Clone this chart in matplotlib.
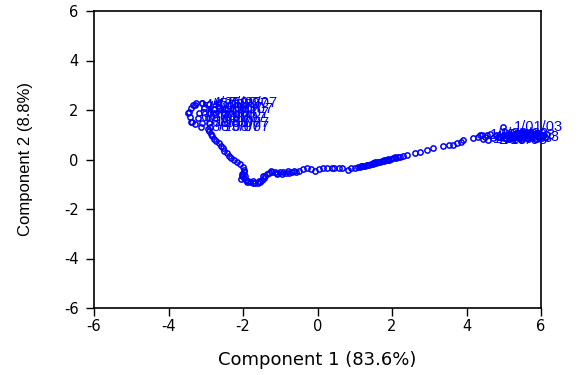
import matplotlib
matplotlib.use("Agg")
import matplotlib.pyplot as plt
from matplotlib import font_manager

# ---- Principal component scores (Component 1, Component 2) -------------
# Unlabelled observations, roughly in time order (early 2003 -> 2007)
pc1 = [
    # early 2003 cloud on the right
    5.15, 5.35, 5.55, 5.75, 5.95, 6.08, 5.90, 5.70, 5.50, 5.30, 5.10, 4.95,
    5.05, 5.25, 5.45, 5.65, 5.85, 6.02, 5.80, 5.60, 5.40, 5.20, 5.00, 4.85,
    5.30, 5.55, 5.75, 5.95, 6.10, 5.45,
    # drift towards the origin
    4.55, 4.42, 4.31, 4.17, 3.91, 3.86, 3.74, 3.64, 3.52, 3.37, 3.10, 2.94,
    2.75, 2.62, 2.40, 2.30, 2.22, 2.16, 2.10, 2.04, 1.98, 1.93, 1.88, 1.83,
    1.78, 1.73, 1.68, 1.63, 1.58, 1.53, 1.48, 1.43, 1.38, 1.33, 1.28, 1.23,
    1.18, 1.13, 1.08, 1.02, 1.62, 1.48, 1.78, 2.08, 1.32, 1.90, 1.55, 1.20,
    0.90, 0.82, 0.65, 0.58, 0.45, 0.38, 0.25, 0.15, 0.05, -0.07,
    # dip below zero
    -0.18, -0.28, -0.40, -0.50, -0.58, -0.68, -0.76, -0.84, -0.92, -1.00,
    -1.08, -1.15, -1.22, -1.30, -1.36, -1.40, -1.44, -1.48, -1.54, -1.60,
    -1.67, -1.74, -1.80, -1.86, -1.92, -1.98, -2.02, -2.00, -1.96, -1.98,
    -1.10, -0.95, -1.25, -1.58, -1.72, -1.90, -2.05, -1.94, -0.80, -0.62,
    -1.45, -2.04,
    # climb to the 2007 cluster
    -2.00, -2.08, -2.16, -2.25, -2.32, -2.38, -2.44, -2.50, -2.55, -2.60,
    -2.65, -2.72, -2.78, -2.82, -2.86, -2.90, -2.94,
    # 2007 cluster outline
    -3.40, -3.30, -3.35, -3.25, -3.48, -3.10,
]
pc2 = [
    1.02, 0.98, 1.00, 0.95, 0.92, 0.97, 1.05, 1.08, 1.06, 1.04, 1.00, 0.94,
    0.86, 0.84, 0.88, 0.85, 0.82, 0.88, 0.93, 0.95, 0.92, 0.90, 0.88, 0.92,
    0.96, 1.10, 1.02, 1.08, 0.90, 0.80,
    0.99, 0.99, 0.91, 0.87, 0.77, 0.71, 0.67, 0.60, 0.58, 0.55, 0.46, 0.38,
    0.30, 0.26, 0.20, 0.15, 0.12, 0.10, 0.07, 0.05, 0.03, 0.00, -0.02, -0.04,
    -0.06, -0.08, -0.10, -0.11, -0.13, -0.15, -0.16, -0.19, -0.21, -0.23,
    -0.25, -0.26, -0.28, -0.30, -0.31, -0.33, -0.10, -0.20, -0.02, 0.10,
    -0.22, 0.02, -0.12, -0.25,
    -0.36, -0.42, -0.36, -0.34, -0.34, -0.33, -0.36, -0.34, -0.40, -0.46,
    -0.40, -0.34, -0.40, -0.48, -0.50, -0.52, -0.54, -0.55, -0.52, -0.51,
    -0.53, -0.50, -0.52, -0.55, -0.60, -0.68, -0.76, -0.84, -0.90, -0.94,
    -0.96, -0.94, -0.91, -0.87, -0.82, -0.76, -0.68, -0.58, -0.50, -0.42,
    -0.58, -0.58, -0.48, -0.86, -0.88, -0.90, -0.80, -0.66, -0.48, -0.46,
    -0.65, -0.60,
    -0.30, -0.18, -0.10, -0.04, 0.06, 0.16, 0.26, 0.36, 0.46, 0.56,
    0.66, 0.74, 0.84, 0.94, 1.04, 1.14, 1.22,
    1.50, 1.42, 2.22, 2.30, 1.88, 2.30,
]

# Labelled observations (weekly dates)
early_dates = ["1/01/03", "1/08/03", "1/15/03", "1/22/03", "1/29/03",
               "2/05/03", "2/12/03", "2/19/03", "2/26/03"]
early_pc1 = [4.98, 4.36, 4.50, 4.62, 4.44, 4.70, 4.80, 4.58, 4.90]
early_pc2 = [1.33, 1.00, 0.92, 1.02, 0.84, 0.88, 0.98, 0.80, 0.90]

late_dates = ["4/18/07", "4/25/07", "5/02/07", "5/09/07", "5/16/07",
              "5/23/07", "5/30/07", "6/06/07", "6/13/07", "6/20/07",
              "6/27/07", "7/04/07", "7/11/07", "7/18/07", "7/25/07",
              "8/01/07", "8/08/07", "8/15/07"]
late_pc1 = [-3.30, -3.10, -2.90, -2.68, -3.40, -3.05, -2.78, -3.46, -3.18,
            -2.88, -3.42, -3.22, -2.95, -3.36, -3.10, -2.90, -2.88, -3.13]
late_pc2 = [2.22, 2.28, 2.26, 2.30, 2.08, 2.10, 2.06, 1.90, 1.86,
            1.88, 1.70, 1.66, 1.68, 1.50, 1.46, 1.48, 1.30, 1.31]

ticks = [-6, -4, -2, 0, 2, 4, 6]
x_title = "Component 1 (83.6%)"
y_title = "Component 2 (8.8%)"

BLUE = "#0000FF"

installed = {f.name for f in font_manager.fontManager.ttflist}
narrow = "Liberation Sans Narrow" if "Liberation Sans Narrow" in installed else "Liberation Sans"

fig = plt.figure(figsize=(5.78, 3.75), dpi=100)
ax = fig.add_axes([94 / 578, 67 / 375, 447 / 578, 297 / 375])

marker_kw = dict(linestyle="none", marker="o", markersize=3.8,
                 markerfacecolor="none", markeredgecolor=BLUE,
                 markeredgewidth=1.1, clip_on=False)
ax.plot(pc1, pc2, **marker_kw)
ax.plot(early_pc1, early_pc2, **marker_kw)
ax.plot(late_pc1, late_pc2, **marker_kw)

for xs, ys, labels in ((early_pc1, early_pc2, early_dates),
                       (late_pc1, late_pc2, late_dates)):
    for x, y, s in zip(xs, ys, labels):
        ax.annotate(s, (x, y), xytext=(7.5, 0), textcoords="offset points",
                    ha="left", va="center", fontsize=10.5, color=BLUE,
                    family="Liberation Sans", annotation_clip=False)

ax.set_xlim(-6, 6)
ax.set_ylim(-6, 6)
ax.set_xticks(ticks)
ax.set_yticks(ticks)
ax.set_xticklabels([str(t) for t in ticks])
ax.set_yticklabels([str(t) for t in ticks])
ax.tick_params(direction="out", length=6, width=1, colors="black",
               labelsize=10.5)
ax.tick_params(axis="x", pad=2)
ax.tick_params(axis="y", pad=5)
for sp in ax.spines.values():
    sp.set_linewidth(1.2)
    sp.set_color("black")

ax.set_xlabel(x_title, fontsize=13, family="DejaVu Sans")
ax.xaxis.set_label_coords(0.5, -0.145)
ax.set_ylabel(y_title, fontsize=12, family=narrow)
ax.yaxis.set_label_coords(-0.137, 0.5)

fig.savefig("out.png", dpi=100)
